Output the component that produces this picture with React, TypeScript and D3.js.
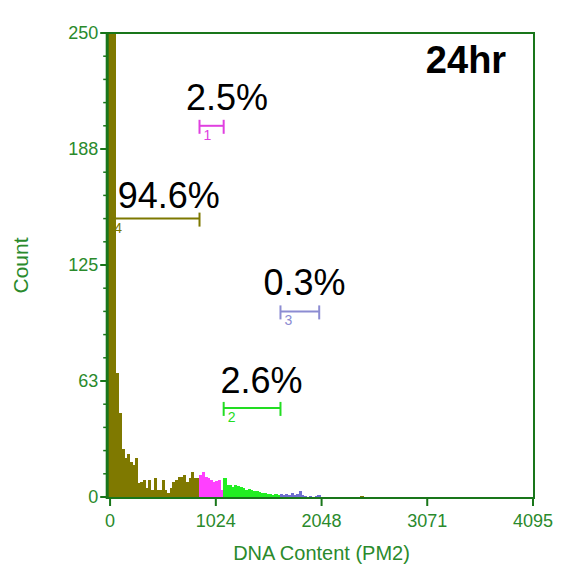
import * as React from "react";
import * as d3 from "d3";

// histogram: channel bins of fixed width starting at BIN_START
const BIN_START = -20;
const BIN_WIDTH = 26;
const counts = [
  860, 610, 330, 67, 45, 26, 21, 23, 19, 17,
  21, 7.5, 8, 9, 5, 9, 4, 10, 4, 4,
  9, 4, 2, 5, 8, 9, 11, 11, 12, 8,
  10, 13.5, 10, 10, 12, 13.5, 11, 10, 9, 8,
  8.5, 9, 4, 10, 6.5, 6.5, 5.5, 6.5, 6, 5.5,
  5, 4, 4.5, 4, 3.5, 3, 2.5, 2, 2, 1.5,
  1.5, 1, 1.5, 1, 1.5, 1, 1.5, 1, 2, 1,
  1.5, 3, 1, 0.5, 0, 0.5, 0, 0.5, 1, 0,
  0, 0, 0, 0, 0, 0, 0, 0, 0, 0,
  0, 0, 0, 0, 0.6,
];

// gates (markers)
const gateIds = ["4", "1", "2", "3"];
const gateLo = [0, 866, 1100, 1650];
const gateHi = [866, 1100, 1650, 2025];
const gateLevel = [150, 200, 48, 100];
const gatePct = ["94.6%", "2.5%", "2.6%", "0.3%"];

const xTicks = [0, 1024, 2048, 3071, 4095];
const xTickLabels = ["0", "1024", "2048", "3071", "4095"];
const yTicks = [0, 62.5, 125, 187.5, 250];
const yTickLabels = ["0", "63", "125", "188", "250"];
const yMinorStep = 12.5;

const title = "24hr";
const xTitle = "DNA Content (PM2)";
const yTitle = "Count";

// styles
const GATE_COLORS = ["#7d7800", "#e040e0", "#22dd22", "#8c8cd2"];
const BAR_COLORS = ["#7f7900", "#ff40ff", "#22ee22", "#6f6fd0"];
const AXIS = "#19761a";
const AXIS_TEXT = "#2a8a2c";
const FONT = "'Liberation Sans', Arial, sans-serif";
// label offsets from gate centre (px)
const LABEL_OFFSETS = [
  [14, -11],
  [15.5, -16],
  [9.5, -15],
  [4.7, -16],
];

export default function App() {
  const x = d3.scaleLinear().domain([-20, 4095]).range([108, 533]);
  const y = d3.scaleLinear().domain([0, 250]).range([497, 33]);
  const left = 107.2;
  const right = 534;
  const top = 33;
  const bottom = 498;

  const gateOf = (c: number) => {
    for (let i = 0; i < gateLo.length; i++) {
      if (c >= gateLo[i] && c < gateHi[i]) return i;
    }
    return 0;
  };

  const minor = d3.range(0, 250 + 0.01, yMinorStep).filter((v) => !yTicks.includes(v));

  return (
    <svg
      width={571}
      height={565}
      style={{ position: "absolute", left: 0, top: 0, background: "#fff" }}
      fontFamily={FONT}
    >
      {/* bars */}
      <g shapeRendering="crispEdges">
        {counts.map((c, i) => {
          if (c <= 0) return null;
          const s = BIN_START + i * BIN_WIDTH;
          const x0 = x(s);
          const x1 = x(s + BIN_WIDTH);
          const yy = y(Math.min(c, 250));
          return (
            <rect
              key={i}
              x={x0}
              y={yy}
              width={x1 - x0 + 0.4}
              height={y(0) - yy + 1}
              fill={BAR_COLORS[gateOf(s + BIN_WIDTH / 2)]}
            />
          );
        })}
      </g>

      {/* frame */}
      <line x1={left} x2={right + 1} y1={top} y2={top} stroke={AXIS} strokeWidth={2} />
      <line x1={right} x2={right} y1={top} y2={bottom} stroke={AXIS} strokeWidth={2} />
      <line x1={left} x2={left} y1={top - 1} y2={bottom + 1} stroke={AXIS} strokeWidth={3} />
      <line x1={left} x2={right + 1} y1={bottom} y2={bottom} stroke={AXIS} strokeWidth={2} />

      {/* y ticks */}
      {yTicks.map((t, i) => (
        <g key={`y${t}`}>
          <line x1={left - 7} x2={left} y1={y(t)} y2={y(t)} stroke={AXIS} strokeWidth={2} />
          <text
            x={left - 9}
            y={y(t)}
            dy="0.36em"
            textAnchor="end"
            fontSize={18}
            fill={AXIS_TEXT}
          >
            {yTickLabels[i]}
          </text>
        </g>
      ))}
      {minor.map((t) => (
        <line key={`m${t}`} x1={left - 4} x2={left} y1={y(t)} y2={y(t)} stroke={AXIS} strokeWidth={1.5} />
      ))}

      {/* x ticks */}
      {xTicks.map((t, i) => (
        <g key={`x${t}`}>
          <line x1={x(t)} x2={x(t)} y1={bottom} y2={bottom + 8} stroke={AXIS} strokeWidth={2} />
          <text x={x(t)} y={527} textAnchor="middle" fontSize={18} fill={AXIS_TEXT}>
            {xTickLabels[i]}
          </text>
        </g>
      ))}

      {/* axis titles */}
      <text x={(x(0) + x(4095)) / 2} y={560} textAnchor="middle" fontSize={20} fill={AXIS_TEXT}>
        {xTitle}
      </text>
      <text
        transform={`translate(28,${(top + bottom) / 2}) rotate(-90)`}
        textAnchor="middle"
        fontSize={21}
        fill={AXIS_TEXT}
      >
        {yTitle}
      </text>

      {/* gates */}
      {gateIds.map((id, i) => {
        const gx0 = x(gateLo[i]);
        const gx1 = x(gateHi[i]);
        const gy = y(gateLevel[i]);
        const col = GATE_COLORS[i];
        const [dx, dy] = LABEL_OFFSETS[i];
        return (
          <g key={id}>
            <line x1={gx0} x2={gx1} y1={gy} y2={gy} stroke={col} strokeWidth={2} />
            <line x1={gx0} x2={gx0} y1={gy - 6} y2={gy + 8} stroke={col} strokeWidth={2} />
            <line x1={gx1} x2={gx1} y1={gy - 6} y2={gy + 8} stroke={col} strokeWidth={2} />
            <text x={gx0 + 8} y={gy + 14} textAnchor="middle" fontSize={14} fill={col}>
              {id}
            </text>
            <text
              x={(gx0 + gx1) / 2 + dx}
              y={gy + dy}
              textAnchor="middle"
              fontSize={36}
              fill="#000"
            >
              {gatePct[i]}
            </text>
          </g>
        );
      })}

      {/* title */}
      <text x={466} y={73} textAnchor="middle" fontSize={38} fontWeight={700} fill="#000">
        {title}
      </text>
    </svg>
  );
}
